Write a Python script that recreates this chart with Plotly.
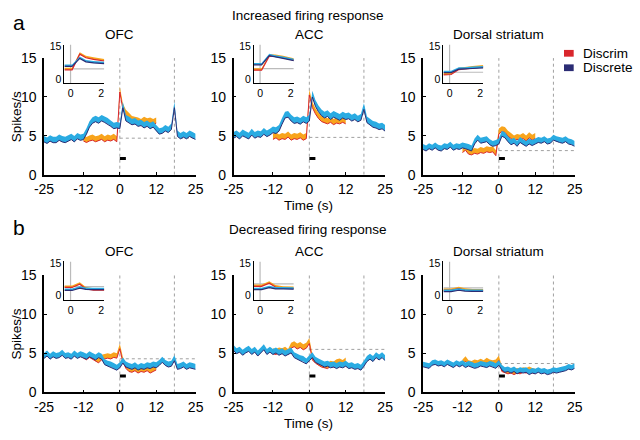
import plotly.graph_objects as go

W, H = 640, 440

# ---------------- data ----------------
t_main = list(range(-25, 26))
t_discrim = list(range(-12, 13))
t_inset = [-0.4, 0.1, 0.6, 1.0, 1.5, 2.2]

x_ticks = [-25, -12, 0, 12, 25]
y_ticks = [0, 5, 10, 15]
inset_x_ticks = [0, 2]
inset_y_ticks = [0, 15]

panel_titles = ["OFC", "ACC", "Dorsal striatum", "OFC", "ACC", "Dorsal striatum"]
row_titles = ["Increased firing response", "Decreased firing response"]
series_names = ["Discrim", "Discrete"]

ofc_inc_discrete = [4.6, 4.4, 4.7, 4.5, 4.5, 4.8, 4.6, 4.5, 4.7, 4.9, 4.6, 5.0, 4.8,
                    4.9, 5.6, 6.5, 7.0, 7.2, 7.0, 7.3, 7.1, 6.9, 6.6, 6.3, 6.4,
                    6.3, 9.0, 7.3, 7.1, 6.8, 6.9, 6.6, 6.7, 6.4, 6.6, 6.3, 6.5, 6.0,
                    5.6, 5.7, 6.0, 5.8, 6.2, 9.0, 5.3, 5.0, 5.2, 5.0, 5.3, 5.1, 4.9]
ofc_inc_discrim = [4.7, 4.5, 4.7, 4.8, 4.6, 4.7, 4.9, 4.6, 4.8, 4.7, 4.9, 4.6,
                   11.0, 8.8, 8.0, 7.6, 7.2, 7.1, 7.0, 6.8, 7.1, 6.9, 7.0, 6.8, 7.0]

acc_inc_discrete = [5.1, 5.3, 5.0, 5.4, 5.2, 5.0, 5.5, 5.1, 5.3, 5.2, 5.6, 5.3, 5.5,
                    5.8, 5.7, 6.0, 6.9, 7.7, 7.8, 7.3, 7.0, 7.1, 6.9, 7.2, 7.0,
                    7.3, 10.4, 9.2, 8.5, 8.0, 7.7, 7.9, 7.5, 7.8, 7.6, 7.4, 7.7, 7.5,
                    7.6, 7.3, 7.5, 7.2, 7.4, 8.8, 7.1, 6.8, 6.5, 6.4, 6.2, 6.3, 6.0]
acc_inc_discrim = [4.9, 5.1, 4.8, 5.0, 4.9, 5.2, 4.8, 5.0, 4.9, 5.1, 4.8, 5.0,
                   10.6, 9.0, 8.2, 7.6, 7.2, 7.0, 6.9, 7.1, 6.8, 7.0, 6.9, 7.1, 6.9]

dor_inc_discrete = [3.6, 3.4, 3.7, 3.5, 3.8, 3.5, 3.4, 3.7, 3.6, 3.9, 3.5, 3.7, 3.6,
                    3.8, 3.7, 3.6, 3.4, 4.3, 4.8, 4.4, 4.5, 4.6, 4.2, 4.0, 4.1,
                    4.3, 5.3, 5.1, 4.6, 4.2, 4.4, 4.0, 4.5, 4.2, 4.0, 4.3, 4.1, 4.3,
                    4.5, 4.4, 4.6, 4.3, 4.4, 4.8, 4.6, 4.5, 4.4, 4.6, 4.3, 4.2, 4.0]
dor_inc_discrim = [3.2, 3.5, 3.0, 2.9, 3.1, 3.0, 3.2, 3.1, 3.3, 3.2, 3.3, 2.8,
                   5.6, 5.9, 5.8, 5.3, 5.0, 4.7, 4.9, 4.8, 5.0, 4.7, 5.1, 4.8, 5.0]

ofc_dec_discrete = [4.7, 5.0, 4.6, 4.9, 4.7, 4.8, 5.1, 4.7, 4.8, 4.6, 5.0, 4.7, 4.9,
                    4.8, 4.6, 4.9, 4.7, 4.5, 4.8, 4.6, 3.9, 3.7, 3.6, 3.4, 3.2,
                    3.5, 4.1, 3.6, 3.4, 3.3, 3.5, 3.2, 3.4, 3.3, 3.5, 3.4, 3.6, 3.5,
                    3.8, 4.2, 3.8, 3.6, 3.7, 4.4, 3.3, 3.4, 3.6, 3.3, 3.5, 3.4, 3.3]
ofc_dec_discrim = [4.7, 4.5, 4.8, 4.6, 4.3, 4.1, 4.5, 4.6, 4.7, 4.6, 4.8, 4.7,
                   5.9, 4.2, 3.4, 3.0, 2.9, 3.1, 2.8, 3.0, 2.9, 3.1, 2.8, 3.0, 3.2]

acc_dec_discrete = [5.7, 5.3, 5.5, 5.1, 5.4, 5.6, 5.2, 5.5, 5.0, 5.4, 5.8, 5.2, 5.5,
                    5.2, 5.4, 5.1, 5.3, 5.0, 5.2, 5.4, 4.8, 4.6, 4.4, 4.3, 4.0,
                    4.4, 4.8, 4.2, 4.0, 3.8, 3.6, 3.7, 3.5, 3.6, 3.4, 3.6, 3.5, 3.7,
                    3.4, 3.5, 3.3, 3.4, 3.2, 3.7, 4.3, 4.6, 4.3, 4.8, 4.5, 4.8, 4.4]
acc_dec_discrim = [5.3, 5.2, 5.4, 5.3, 5.5, 5.2, 6.0, 6.2, 5.9, 6.1, 5.8, 6.0,
                   6.6, 4.5, 4.1, 3.8, 3.6, 3.5, 3.4, 3.7, 3.6, 3.9, 4.0, 3.8, 4.1]

dor_dec_discrete = [3.6, 3.5, 3.4, 3.8, 3.9, 3.7, 3.8, 3.6, 3.9, 3.7, 3.5, 3.8, 3.6,
                    3.8, 3.5, 3.7, 3.6, 3.4, 3.5, 3.7, 3.6, 3.5, 3.7, 3.6, 3.4,
                    3.8, 3.2, 2.9, 3.0, 2.8, 3.0, 2.7, 2.9, 2.8, 2.9, 2.6, 2.8, 2.7,
                    2.9, 2.7, 2.8, 2.6, 2.7, 2.9, 2.8, 2.9, 3.0, 3.1, 3.3, 3.2, 3.4]
dor_dec_discrim = [3.9, 4.3, 3.8, 3.7, 3.9, 3.8, 4.0, 3.8, 4.1, 3.9, 3.8, 3.9,
                   4.4, 3.0, 2.8, 2.7, 2.8, 2.6, 2.8, 2.7, 2.9, 2.8, 3.0, 2.8, 2.7]

# inset (zoomed 0-2 s) means
ofc_inc_inset_discrete = [6.3, 6.3, 10.0, 8.4, 7.9, 7.6]
ofc_inc_inset_discrim = [4.7, 4.7, 12.0, 10.3, 9.6, 8.8]
acc_inc_inset_discrete = [7.0, 7.0, 11.3, 10.6, 10.0, 9.0]
acc_inc_inset_discrim = [4.5, 4.5, 11.0, 10.9, 10.4, 9.2]
dor_inc_inset_discrete = [3.4, 3.4, 5.0, 5.0, 5.3, 5.6]
dor_inc_inset_discrim = [2.3, 2.5, 4.8, 5.1, 5.6, 6.0]
ofc_dec_inset_discrete = [2.9, 2.9, 4.0, 3.4, 3.3, 3.3]
ofc_dec_inset_discrim = [4.3, 4.3, 5.8, 3.6, 3.0, 3.0]
acc_dec_inset_discrete = [3.3, 3.3, 4.2, 3.6, 3.6, 3.5]
acc_dec_inset_discrim = [4.8, 4.8, 6.3, 4.5, 4.0, 3.8]
dor_dec_inset_discrete = [2.4, 2.4, 3.0, 2.6, 2.5, 2.5]
dor_dec_inset_discrim = [2.9, 2.9, 3.7, 3.0, 2.7, 2.7]

baselines = [4.7, 4.8, 3.1, 4.3, 5.5, 3.7]
sem_discrete = [0.38, 0.4, 0.35, 0.35, 0.35, 0.32]
sem_discrim = [0.36, 0.36, 0.35, 0.32, 0.35, 0.32]
sem_inset = 0.45
second_event = 18
bar_span = [0, 2]
bar_level = 2.1

# ---------------- style ----------------
ORANGE = "#F8A41C"
RED = "#D9262C"
LBLUE = "#2AABE2"
NAVY = "#2B2C74"
GRAY = "#A0A0A0"
FONT = "Liberation Sans, Arial, sans-serif"
TICK_SIZE = 14
TEXT_SIZE = 13.5

panels = [
    (ofc_inc_discrete, ofc_inc_discrim, ofc_inc_inset_discrete, ofc_inc_inset_discrim),
    (acc_inc_discrete, acc_inc_discrim, acc_inc_inset_discrete, acc_inc_inset_discrim),
    (dor_inc_discrete, dor_inc_discrim, dor_inc_inset_discrete, dor_inc_inset_discrim),
    (ofc_dec_discrete, ofc_dec_discrim, ofc_dec_inset_discrete, ofc_dec_inset_discrim),
    (acc_dec_discrete, acc_dec_discrim, acc_dec_inset_discrete, acc_dec_inset_discrim),
    (dor_dec_discrete, dor_dec_discrim, dor_dec_inset_discrete, dor_dec_inset_discrim),
]

col_x0 = [35, 230, 425]
main_w = 156
row_y = [(52, 173), (277, 399)]


def fx(px):
    return px / W


def fy(py):
    return 1 - py / H


fig = go.Figure()
layout = dict(
    width=W, height=H, margin=dict(l=0, r=0, t=0, b=0),
    paper_bgcolor="white", plot_bgcolor="white", showlegend=False,
    font=dict(family=FONT, color="black"),
)
shapes = []
annotations = []


def add_band(x, mean, sem, band_col, line_col, xa, ya, lw):
    up = [m + sem for m in mean]
    lo = [m - sem for m in mean]
    fig.add_trace(go.Scatter(x=list(x) + list(x)[::-1], y=up + lo[::-1],
                             fill="toself", fillcolor=band_col, mode="none",
                             xaxis=xa, yaxis=ya, hoverinfo="skip"))
    fig.add_trace(go.Scatter(x=list(x), y=lo, mode="lines",
                             line=dict(color=line_col, width=lw),
                             xaxis=xa, yaxis=ya, hoverinfo="skip"))


for i, (disc, dcrim, idisc, idcrim) in enumerate(panels):
    r, c = divmod(i, 3)
    m = i + 1          # main axis index
    n = i + 7          # inset axis index
    x0 = col_x0[c]
    top, bot = row_y[r]

    # main axes
    layout[f"xaxis{m}"] = dict(
        domain=[fx(x0), fx(x0 + main_w)], range=[-25, 25], anchor=f"y{m}",
        tickvals=x_ticks, ticktext=[str(v) for v in x_ticks],
        showline=True, linecolor="black", linewidth=1.5, ticks="inside",
        ticklen=3, tickcolor="black", showgrid=False, zeroline=False,
        ticklabelstandoff=1, tickfont=dict(size=TICK_SIZE))
    layout[f"yaxis{m}"] = dict(
        domain=[fy(bot), fy(top)], range=[0, 15], anchor=f"x{m}",
        tickvals=y_ticks, showline=True, linecolor="black", linewidth=1.5,
        ticks="inside", ticklen=3, tickcolor="black", showgrid=False,
        zeroline=False, ticklabelstandoff=3, tickfont=dict(size=TICK_SIZE))

    xr, yr = f"x{m}", f"y{m}"
    for xv in (0, second_event):
        shapes.append(dict(type="line", xref=xr, yref=yr, x0=xv, x1=xv, y0=0, y1=15,
                           line=dict(color=GRAY, width=1, dash="dot"), layer="below"))
    shapes.append(dict(type="line", xref=xr, yref=yr, x0=0, x1=25,
                       y0=baselines[i], y1=baselines[i],
                       line=dict(color=GRAY, width=1, dash="dot"), layer="below"))

    add_band(t_discrim, dcrim, sem_discrim[i], ORANGE, RED, xr, yr, 1)
    add_band(t_main, disc, sem_discrete[i], LBLUE, NAVY, xr, yr, 1)

    shapes.append(dict(type="line", xref=xr, yref=yr, x0=bar_span[0], x1=bar_span[1],
                       y0=bar_level, y1=bar_level, line=dict(color="black", width=3)))

    # inset axes
    ix0 = x0 + 21
    layout[f"xaxis{n}"] = dict(
        domain=[fx(ix0), fx(ix0 + 41)], range=[-0.4, 2.2], anchor=f"y{n}",
        tickvals=inset_x_ticks, showline=True, linecolor="black", linewidth=1,
        ticks="", showgrid=False, zeroline=False, tickfont=dict(size=10.5))
    layout[f"yaxis{n}"] = dict(
        domain=[fy(top + 26), fy(top - 14)], range=[-2, 16], anchor=f"x{n}",
        tickvals=inset_y_ticks, showline=True, linecolor="black", linewidth=1,
        ticks="", showgrid=False, zeroline=False, tickfont=dict(size=10.5))
    ixr, iyr = f"x{n}", f"y{n}"
    shapes.append(dict(type="line", xref=ixr, yref=iyr, x0=0, x1=0, y0=-2, y1=16,
                       line=dict(color="#BBBBBB", width=1.2), layer="below"))
    shapes.append(dict(type="line", xref=ixr, yref=iyr, x0=-0.4, x1=2.2,
                       y0=baselines[i], y1=baselines[i],
                       line=dict(color="#BBBBBB", width=1.2), layer="below"))
    add_band(t_inset, idcrim, sem_inset, ORANGE, RED, ixr, iyr, 1.2)
    add_band(t_inset, idisc, sem_inset, LBLUE, NAVY, ixr, iyr, 1.2)

    # panel title
    annotations.append(dict(text=panel_titles[i], x=fx(x0 + main_w / 2), y=fy(top - 24),
                            xref="paper", yref="paper", showarrow=False,
                            font=dict(size=TEXT_SIZE), xanchor="center", yanchor="middle"))

# row-level texts
for r in range(2):
    top, bot = row_y[r]
    annotations.append(dict(text=row_titles[r], x=fx(307), y=fy(top - 44 if r == 0 else top - 47),
                            xref="paper", yref="paper", showarrow=False,
                            font=dict(size=TEXT_SIZE), xanchor="center", yanchor="middle"))
    annotations.append(dict(text="Time (s)", x=fx(307), y=fy(bot + 32),
                            xref="paper", yref="paper", showarrow=False,
                            font=dict(size=TEXT_SIZE), xanchor="center", yanchor="middle"))
    annotations.append(dict(text="Spikes/s", x=fx(7), y=fy((top + bot) / 2),
                            xref="paper", yref="paper", showarrow=False, textangle=-90,
                            font=dict(size=TEXT_SIZE), xanchor="center", yanchor="middle"))
    annotations.append(dict(text="ab"[r], x=fx(9), y=fy(15 if r == 0 else 228),
                            xref="paper", yref="paper", showarrow=False,
                            font=dict(size=21), xanchor="center", yanchor="middle"))

# legend
for k, (name, col) in enumerate(zip(series_names, [RED, NAVY])):
    cy = 47 + 15 * k
    shapes.append(dict(type="rect", xref="paper", yref="paper",
                       x0=fx(570), x1=fx(580), y0=fy(cy + 3.5), y1=fy(cy - 3.5),
                       fillcolor=col, line=dict(width=0)))
    annotations.append(dict(text=name, x=fx(588), y=fy(cy), xref="paper", yref="paper",
                            showarrow=False, font=dict(size=TEXT_SIZE),
                            xanchor="left", yanchor="middle"))

layout["shapes"] = shapes
layout["annotations"] = annotations
fig.update_layout(**layout)
fig.write_html("out.html", config={"displayModeBar": False},
               post_script="document.body.style.margin='0';document.body.style.padding='0';")
